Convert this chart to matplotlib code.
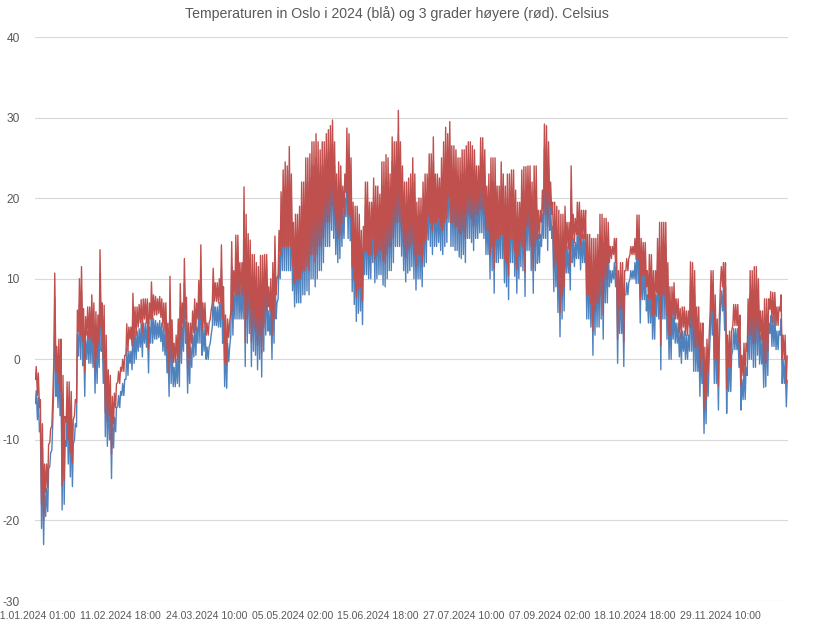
import matplotlib.pyplot as plt
import numpy as np

plt.rcParams['font.family'] = ['Liberation Sans', 'DejaVu Sans']
plt.rcParams['axes.unicode_minus'] = False

title = "Temperaturen in Oslo i 2024 (blå) og 3 grader høyere (rød). Celsius"
tick_labels = ["01.01.2024 01:00", "11.02.2024 18:00", "24.03.2024 10:00",
               "05.05.2024 02:00", "15.06.2024 18:00", "27.07.2024 10:00",
               "07.09.2024 02:00", "18.10.2024 18:00", "29.11.2024 10:00"]
n_hours = 8784   # hourly points, first one 01.01.2024 01:00
offset = 3       # red series = blue + 3 degrees

# daily high / low of the blue series
blue_max = [
    -3.9, -4.7, -8, -11, -16, -16, -13.6, -11.6, -8.1, 7.7,
    -1.4, -0.5, -0.5, -5, -10.1, -5.8, -5.8, -7, -10.5, -8,
    3.1, 7, 8.5, 3.3, 2.3, 3.5, 3.5, 5, 4, 2.9,
    2.5, 10.6, 4, 3.7, 0, -4.3, -5, -7.6, -7.2, -6,
    -4.5, -4, -3, -2.5, 1.4, 1, 1, 5.2, 3.5, 3.5,
    3.8, 4.4, 4.5, 4.5, 4.5, 4, 6.6, 5, 4.8, 4.5,
    4.8, 4.5, 4, 4, 1.5, 7.3, 1.9, -1, 0, 2,
    6.4, 4, 9.5, 4.7, 1.5, 1.5, 3, 4.5, 4, 6.8,
    11.2, 4, 4, 1.5, 1.5, 3, 8.3, 6.5, 6.5, 7,
    11.2, 6, 2.5, 2, 1.5, 11.6, 8, 12.4, 12.4, 9,
    9, 18.4, 15, 12.6, 11.8, 10, 10, 9, 8.5, 9.9,
    9.9, 10, 10, 6, 7, 9, 12.3, 7, 13, 17.8,
    20.5, 21.5, 21, 23.4, 20, 14, 15, 15, 16, 19,
    19, 22, 22, 22.5, 24, 24, 25, 24, 23, 24,
    24, 25, 25.5, 26, 26.7, 24, 20, 21.5, 21, 18.5,
    20, 25.7, 25, 22, 16.5, 16, 16, 15, 13, 13.5,
    19, 19, 16.5, 16.5, 19.5, 18.5, 18.5, 17.5, 21.5, 21.5,
    22.4, 22, 20, 24.6, 24, 24, 27.9, 24, 21, 19,
    19, 19.5, 20, 22, 20, 16.5, 17, 17, 19, 20,
    20, 22.5, 22.5, 24.6, 20, 20, 19.5, 22, 24, 25.8,
    25, 26.5, 23.5, 23.5, 23, 22, 22, 23, 23, 23.5,
    24, 24, 23.5, 23, 21, 21, 24.5, 24.5, 23, 18.5,
    20, 22, 22, 22, 18.5, 18.5, 21.5, 20, 18.5, 20,
    20, 20.5, 20.5, 18, 16.5, 16.5, 20.5, 20.9, 20.9, 21,
    21, 19, 21, 21, 15.5, 15.5, 18, 26.2, 26, 24,
    19, 16.5, 16.5, 16, 15.5, 15, 15, 16, 14, 14,
    21, 15, 14.5, 16.5, 16.5, 15.5, 15.5, 15.5, 12.5, 12.5,
    12, 12, 12, 12.5, 15, 15, 14.5, 14.5, 14, 11,
    11, 12, 12, 8, 9, 9, 8, 9.5, 9.5, 11,
    11, 12, 14.9, 14.9, 12, 11.5, 11.5, 8, 10, 10,
    8, 8, 12, 14, 14, 14, 14, 9, 6, 6,
    6.5, 4.5, 4.5, 3.3, 3.5, 3.5, 3, 3, 9.1, 9,
    8, 3.5, 3.5, 1.5, 1.5, -1.5, -0.5, -0.5, 8, 8,
    5, 2, 2, 8.5, 9, 9, 0, 0.5, 0.5, 3.8,
    3.8, 3.8, 2.5, -2.5, -1, -1, 4.5, 8, 8, 8.5,
    8.5, 7, 3, 3, 4.5, 4.5, 4.5, 5.4, 5.3, 5.3,
    3.5, 3.5, 5, 0, 0, -2.6,
]

blue_min = [
    -5.5, -7.5, -9, -21, -23, -19.5, -18.9, -13.3, -11.3, -3,
    -4.6, -6, -7, -18.7, -18, -10.8, -13, -14.6, -15.8, -10,
    -8.4, 0.4, 0, -0.8, -4.6, 0, -0.5, -0.5, -1, -4.2,
    -3, -1, 1, -3, -9.6, -10.8, -10, -14.8, -11, -9,
    -5.9, -6, -4.5, -4.5, -2.5, -2, -0.5, -1.3, -0.5, 0,
    1, 1.5, 0.3, 2, 1.5, -1.7, 2, 2, 2.5, 2.5,
    2.7, 2.2, 1, 0.5, -1.7, -4.6, -3, -3.4, -3.4, -3,
    -3.4, -0.5, 1, 2, -4.2, -3, -1, 0.3, 0.5, 2,
    2, 0.5, 1, 0, 0, 2, 4, 4.2, 4.2, 4,
    4, 2, -3.4, -3.6, -0.3, 3, 3, 5, 5, 5,
    5, 5, -0.9, 2, 3.2, -0.9, 1, 0.5, -1.3, 0,
    -2.2, 1, 3, 3.5, 3, 0, 2, 5, 7.5, 10,
    11, 11, 11, 11, 11, 8.5, 6.5, 7, 7, 7,
    8, 8, 8.5, 8, 10, 10, 9, 10, 11, 11,
    12, 14, 14, 14, 16, 15, 13, 12, 12.5, 14,
    15, 17.7, 15, 14.7, 8.4, 6.8, 4.7, 5.7, 6, 4.3,
    10.5, 10.5, 10, 10, 12, 9.5, 10, 10.5, 10.5, 9.2,
    9, 10, 11, 11, 12, 14, 14, 14, 12.8, 11,
    9.6, 10.7, 11, 11.5, 10, 8.6, 10, 10, 9, 11.5,
    12, 14.8, 14, 13, 14, 14, 14.5, 13.5, 13, 14,
    14.5, 17, 14, 14, 13.5, 13.5, 12.7, 12.5, 13, 12,
    15, 15, 14.5, 13.5, 15, 15, 15.7, 15.7, 15, 13,
    13, 10, 11, 8.2, 12, 12, 12.5, 12.5, 9.5, 9,
    7.4, 12, 12, 10.3, 8.2, 10, 11.5, 11, 7.8, 13.5,
    13.5, 11, 8.2, 11, 11.9, 12, 14, 15, 15, 13.5,
    16, 15, 8.4, 9, 5.8, 2.8, 5, 6, 10.7, 10.7,
    8.6, 12, 11.5, 12.5, 12.5, 11.1, 12, 12, 5, 5,
    4, 0.5, 3, 4, 4, 5, 2.5, 7, 7, 9,
    9.5, 10, 9, -0.5, 3.2, 3.2, -0.9, 8, 8, 10,
    10, 10, 9.4, 9.4, 4.5, 7.4, 7.4, 6, 4.5, 4.5,
    2.5, 2.5, 5.3, 5, -1.3, 5, 5, 2.5, 0, 0,
    2.5, 2, 2, 0.3, -0.5, 1, 0, 0, 1, 1,
    -1.5, -1.5, -1.5, -4.6, -3, -9.2, -8, -4.6, 3, 3,
    -3, -3, -6.3, 6.5, 6, 3.6, -6.7, -4, -4, 1.2,
    1.2, 1.2, -1, -6.3, -5, -5, -2, 0, 0, -1,
    -1, 0.5, -0.6, -0.6, -3.5, -3.4, -2, 3.2, 1.6, 1.6,
    1.2, 1.2, 3, -3, -3, -5.9,
]

days = np.arange(len(blue_max))
# low at 05:00, high at 15:00 (index 0 = 01:00)
hours = np.column_stack([days * 24 + 4, days * 24 + 14]).ravel()
blue = np.column_stack([blue_min, blue_max]).ravel()
red = blue + offset

fig = plt.figure(figsize=(8.21, 6.39), dpi=100)
ax = fig.add_axes([35 / 821, 1 - 601 / 639, 753 / 821, 564 / 639])

ax.plot(hours, blue, color="#4F81BD", lw=1.0)
ax.plot(hours, red, color="#C0504D", lw=1.0)

ax.set_xlim(-0.5, n_hours - 0.5)
ax.set_ylim(-30, 40)
ax.set_yticks(range(-30, 41, 10))
ax.set_xticks(np.arange(0, n_hours, 1000))
ax.set_xticklabels(tick_labels)

ax.yaxis.grid(True, color="#D9D9D9", lw=0.8)
ax.set_axisbelow(True)
for s in ax.spines.values():
    s.set_visible(False)
ax.tick_params(axis="both", length=0, colors="#595959")
ax.tick_params(axis="y", pad=11, labelsize=8.6)
ax.tick_params(axis="x", pad=7, labelsize=7.6)

fig.text(397 / 821, 1 - 14 / 639, title, ha="center", va="center",
         fontsize=10.2, color="#595959")

fig.savefig("out.png", dpi=100)
